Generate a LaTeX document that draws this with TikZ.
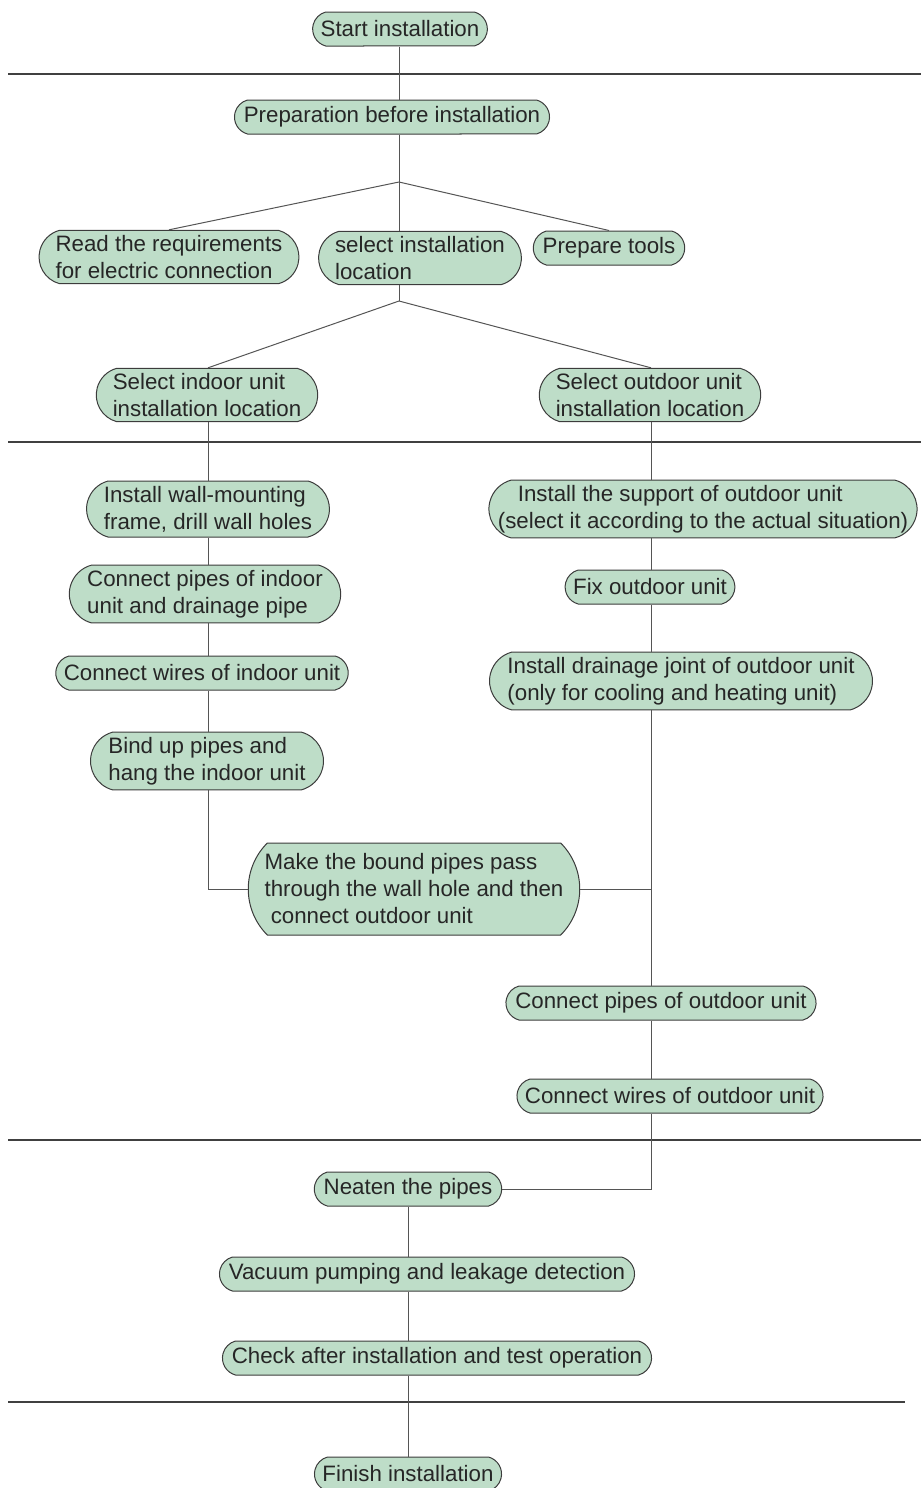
\documentclass[tikz,border=0pt]{standalone}
\usepackage{fontspec}
\setmainfont{Liberation Sans}
\usetikzlibrary{shapes.misc}
\definecolor{stepfill}{HTML}{BEDDC8}
\definecolor{stepdraw}{HTML}{3C3C3C}
\definecolor{linkgray}{HTML}{555555}

\begin{document}
\begin{tikzpicture}[
		x=0.5pt, y=-0.5pt, % one unit per pixel of the sheet
		every node/.style={rounded rectangle, rounded rectangle arc length=150, draw=stepdraw, line width=0.5pt, fill=stepfill, text=black!85, align=left, inner xsep=3pt, inner ysep=2.5pt, minimum height=17pt, font=\fontsize{11.15}{13.5}\selectfont},
		link/.style={draw=linkgray, line width=0.5pt},
		rule/.style={draw=black!75, line width=0.75pt}
	]
	\useasboundingbox (0,0) rectangle (921,1488);

	% Column positions
	\coordinate (incol) at (208,0);
	\coordinate (outcol) at (651,0);
	\coordinate (br1) at (399,182);
	\coordinate (br2) at (399,301);

	% Stage rules
	\draw[rule] (8,74) -- (921,74);
	\draw[rule] (8,442) -- (921,442);
	\draw[rule] (8,1140) -- (921,1140);
	\draw[rule] (8,1402) -- (905,1402);

	% Preparation
	\node (start) at (400,29) {Start installation};
	\node (prep) at (392,117) {Preparation before installation};
	\node (readreq) at (169,257) {Read the requirements\\for electric connection};
	\node (selloc) at (420,258) {select installation\\location};
	\node (tools) at (609,248) {Prepare tools};
	\node (selin) at (207,395) {Select indoor unit\\installation location};
	\node (selout) at (650,395) {Select outdoor unit\\installation location};

	% Indoor unit
	\node (wallframe) at (208,509) {Install wall-mounting\\frame, drill wall holes};
	\node (indpipes) at (205,594) {Connect pipes of indoor\\unit and drainage pipe};
	\node (indwires) at (202,673) {Connect wires of indoor unit};
	\node (bindup) at (207,761) {Bind up pipes and\\hang the indoor unit};
	\node[rounded rectangle arc length=90, minimum height=46pt] (passwall) at (414,889) {Make the bound pipes pass\\through the wall hole and then\\\ connect outdoor unit};

	% Outdoor unit
	\node[inner xsep=-1.5pt] (support) at (703,509) {\hspace*{10pt}Install the support of outdoor unit\\(select it according to the actual situation)};
	\node (fixout) at (650,587) {Fix outdoor unit};
	\node (drainjoint) at (681,681) {Install drainage joint of outdoor unit\\(only for cooling and heating unit)};
	\node (outpipes) at (661,1003) {Connect pipes of outdoor unit};
	\node (outwires) at (670,1096) {Connect wires of outdoor unit};

	% Finishing
	\node (neaten) at (408,1189) {Neaten the pipes};
	\node (vacuum) at (427,1274) {Vacuum pumping and leakage detection};
	\node (check) at (437,1358) {Check after installation and test operation};
	\node (finish) at (408,1474) {Finish installation};

	% Connect preparation steps
	\draw[link] (start.south -| br1) -- (prep.north -| br1);
	\draw[link] (prep.south -| br1) -- (br1);
	\draw[link] (br1) -- (readreq.north);
	\draw[link] (br1) -- (selloc.north -| br1);
	\draw[link] (br1) -- (tools.north);
	\draw[link] (selloc.south -| br2) -- (br2);
	\draw[link] (br2) -- (selin.north -| incol);
	\draw[link] (br2) -- (selout.north -| outcol);

	% Connect indoor steps
	\draw[link] (selin.south -| incol) -- (wallframe.north -| incol);
	\draw[link] (wallframe.south -| incol) -- (indpipes.north -| incol);
	\draw[link] (indpipes.south -| incol) -- (indwires.north -| incol);
	\draw[link] (indwires.south -| incol) -- (bindup.north -| incol);
	\draw[link] (bindup.south -| incol) |- (passwall.west);

	% Connect outdoor steps
	\draw[link] (selout.south -| outcol) -- (support.north -| outcol);
	\draw[link] (support.south -| outcol) -- (fixout.north -| outcol);
	\draw[link] (fixout.south -| outcol) -- (drainjoint.north -| outcol);
	\draw[link] (drainjoint.south -| outcol) -- (outpipes.north -| outcol);
	\draw[link] (passwall.east) -- (passwall.east -| outcol);
	\draw[link] (outpipes.south -| outcol) -- (outwires.north -| outcol);
	\draw[link] (outwires.south -| outcol) |- (neaten.east);

	% Connect finishing steps
	\draw[link] (neaten.south) -- (vacuum.north -| neaten.south);
	\draw[link] (vacuum.south -| neaten.south) -- (check.north -| neaten.south);
	\draw[link] (check.south -| neaten.south) -- (finish.north);

\end{tikzpicture}
\end{document}
